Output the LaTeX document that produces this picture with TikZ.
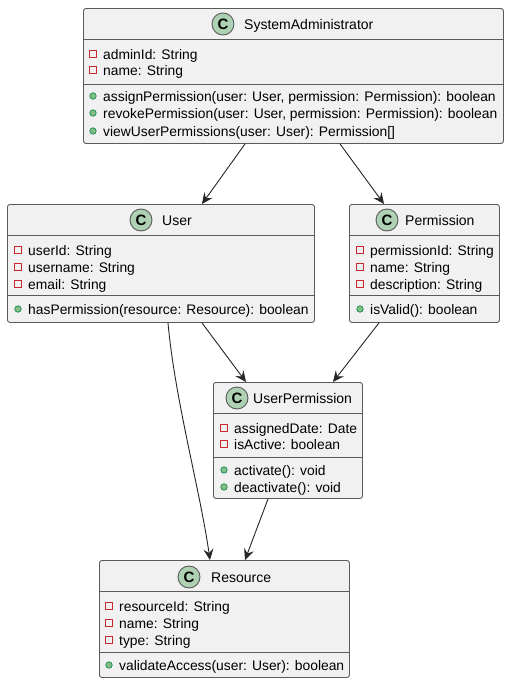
\documentclass[tikz,border=0pt]{standalone}
\usepackage{fontspec}
\setmainfont{Liberation Sans}
\usetikzlibrary{arrows.meta}
\definecolor{boxfill}{HTML}{F1F1F1}
\definecolor{boxline}{HTML}{5A5A5A}
\definecolor{iconfill}{HTML}{ADD1B2}
\definecolor{privred}{HTML}{C82930}
\definecolor{pubfill}{HTML}{84BE84}
\definecolor{publine}{HTML}{038048}
\tikzset{
  classbox/.style={draw=boxline, fill=boxfill, line width=0.9pt, rounded corners=2.5pt,
    anchor=north west, inner sep=0pt},
  sep/.style={draw=boxline, line width=0.9pt},
  cicon/.style={circle, draw=boxline, fill=iconfill, line width=0.9pt, minimum size=22pt,
    inner sep=0pt, font=\fontsize{15}{15}\selectfont\bfseries},
  cname/.style={anchor=base west, inner sep=0pt, font=\fontsize{14}{16}\selectfont},
  member/.style={anchor=base west, inner sep=0pt, font=\fontsize{13.85}{16}\selectfont},
  privmark/.style={draw=privred, line width=0.8pt, minimum size=6.5pt, inner sep=0pt, rectangle},
  pubmark/.style={circle, draw=publine, fill=pubfill, line width=0.6pt, minimum size=6.5pt, inner sep=0pt},
  arr/.style={draw=black!85, line width=0.9pt, -{Stealth[length=11pt, width=10pt, inset=4pt]}},
}
\begin{document}
\begin{tikzpicture}[x=1pt, y=-1pt]
\useasboundingbox[fill=white] (0,0) rectangle (509,683);

% ---- SystemAdministrator
\node[classbox, minimum width=420pt, minimum height=135pt] (sa) at (83,8) {};
\draw[sep] (83,39) -- (503,39);
\draw[sep] (83,84) -- (503,84);
\node[cicon] (sa-ic) at (223,24) {C};
\node[cname] (sa-n) at (244,29) {SystemAdministrator};
\node[privmark] (sa-m1) at (93,54) {};
\node[member] (sa-a1) at (103,59) {adminId: String};
\node[privmark] (sa-m2) at (93,70) {};
\node[member] (sa-a2) at (103,75) {name: String};
\node[pubmark] (sa-m3) at (93,96) {};
\node[member] (sa-o1) at (103,101) {assignPermission(user: User, permission: Permission): boolean};
\node[pubmark] (sa-m4) at (93,113) {};
\node[member] (sa-o2) at (103,118) {revokePermission(user: User, permission: Permission): boolean};
\node[pubmark] (sa-m5) at (93,131) {};
\node[member] (sa-o3) at (103,136) {viewUserPermissions(user: User): Permission[]};

% ---- User
\node[classbox, minimum width=307pt, minimum height=118pt] (user) at (7,204) {};
\draw[sep] (7,235) -- (314,235);
\draw[sep] (7,295) -- (314,295);
\node[cicon] (user-ic) at (141,220) {C};
\node[cname] (user-n) at (162,225) {User};
\node[privmark] (user-m1) at (18,250) {};
\node[member] (user-a1) at (28,255) {userId: String};
\node[privmark] (user-m2) at (18,267) {};
\node[member] (user-a2) at (28,272) {username: String};
\node[privmark] (user-m3) at (18,284) {};
\node[member] (user-a3) at (28,289) {email: String};
\node[pubmark] (user-m4) at (18,309) {};
\node[member] (user-o1) at (28,314) {hasPermission(resource: Resource): boolean};

% ---- Permission
\node[classbox, minimum width=150pt, minimum height=118pt] (perm) at (349,204) {};
\draw[sep] (349,235) -- (499,235);
\draw[sep] (349,295) -- (499,295);
\node[cicon] (perm-ic) at (387,220) {C};
\node[cname] (perm-n) at (405,225) {Permission};
\node[privmark] (perm-m1) at (360,250) {};
\node[member] (perm-a1) at (370,255) {permissionId: String};
\node[privmark] (perm-m2) at (360,267) {};
\node[member] (perm-a2) at (370,272) {name: String};
\node[privmark] (perm-m3) at (360,284) {};
\node[member] (perm-a3) at (370,289) {description: String};
\node[pubmark] (perm-m4) at (360,309) {};
\node[member] (perm-o1) at (370,314) {isValid(): boolean};

% ---- UserPermission
\node[classbox, minimum width=149pt, minimum height=116pt] (up) at (213,382) {};
\draw[sep] (213,413) -- (362,413);
\draw[sep] (213,457) -- (362,457);
\node[cicon] (up-ic) at (237,398) {C};
\node[cname] (up-n) at (253,403) {UserPermission};
\node[privmark] (up-m1) at (224,428) {};
\node[member] (up-a1) at (234,433) {assignedDate: Date};
\node[privmark] (up-m2) at (224,444) {};
\node[member] (up-a2) at (234,449) {isActive: boolean};
\node[pubmark] (up-m3) at (224,470) {};
\node[member] (up-o1) at (234,475) {activate(): void};
\node[pubmark] (up-m4) at (224,487) {};
\node[member] (up-o2) at (234,492) {deactivate(): void};

% ---- Resource
\node[classbox, minimum width=250pt, minimum height=117pt] (res) at (99,560) {};
\draw[sep] (99,591) -- (349,591);
\draw[sep] (99,652) -- (349,652);
\node[cicon] (res-ic) at (189,577) {C};
\node[cname] (res-n) at (211,582) {Resource};
\node[privmark] (res-m1) at (109,606) {};
\node[member] (res-a1) at (119,611) {resourceId: String};
\node[privmark] (res-m2) at (109,623) {};
\node[member] (res-a2) at (119,628) {name: String};
\node[privmark] (res-m3) at (109,640) {};
\node[member] (res-a3) at (119,645) {type: String};
\node[pubmark] (res-m4) at (109,665) {};
\node[member] (res-o1) at (119,670) {validateAccess(user: User): boolean};

% ---- associations
\draw[arr] (sa.south -| 245,0) -- (user.north -| 202,0);
\draw[arr] (sa.south -| 340,0) -- (perm.north -| 384,0);
\draw[arr] (user.south -| 202,0) -- (up.north -| 246,0);
\draw[arr] (perm.south -| 379,0) -- (up.north -| 333,0);
\draw[arr] (user.south -| 168,0) .. controls (175,400) and (200,490) .. (res.north -| 210,0);
\draw[arr] (up.south -| 268,0) -- (res.north -| 245,0);
\end{tikzpicture}
\end{document}
